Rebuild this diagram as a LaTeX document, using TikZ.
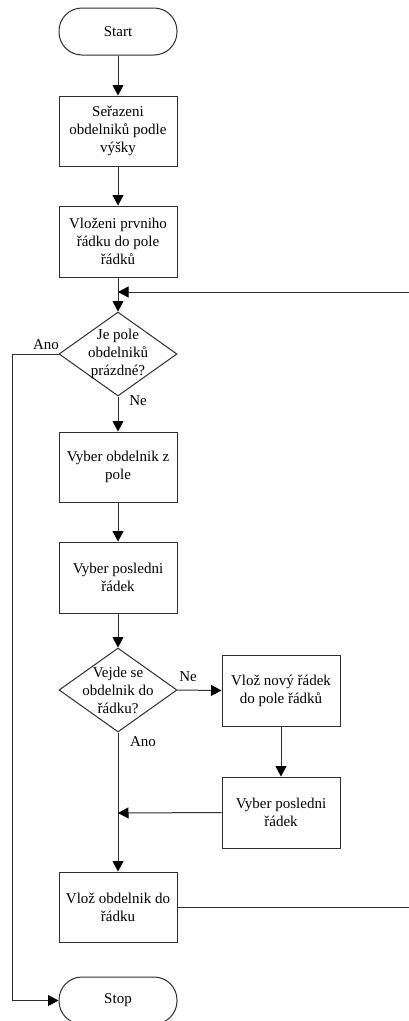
\documentclass[tikz,border=0pt]{standalone}
\usepackage{fontspec}
\setmainfont{Liberation Serif}
\usetikzlibrary{shapes.geometric,arrows.meta}
\begin{document}
\begin{tikzpicture}[x=1pt,y=-1pt,
  font=\fontsize{15}{18}\selectfont,
  ln/.style={draw=black!82,line width=1pt},
  arr/.style={ln,-{Triangle[width=11pt,length=10.5pt,fill=black,color=black]}},
  box/.style={ln,rectangle,minimum width=118pt,minimum height=70pt,inner sep=0pt,align=center,fill=white},
  term/.style={ln,rectangle,rounded corners=23pt,minimum width=118pt,minimum height=47pt,inner sep=0pt,align=center,fill=white},
  dia/.style={ln,diamond,minimum width=118pt,minimum height=84pt,inner sep=0pt,fill=white},
  txt/.style={align=center,inner sep=0pt},
  lbl/.style={inner sep=0pt}]
\useasboundingbox (0,0) rectangle (409,1021);
\node[term] (start) at (118,31.5) {Start};
\node[box] (b1) at (118,131) {Seřazeni\\obdelniků podle\\výšky};
\node[box,minimum height=71pt] (b2) at (118,241.5) {Vloženi prvniho\\řádku do pole\\řádků};
\node[dia] (d1) at (118,354) {};
\node[txt] at (118,354) {Je pole\\obdelniků\\prázdné?};
\node[box] (b3) at (118,467) {Vyber obdelnik z\\pole};
\node[box,minimum height=71pt] (b4) at (118,577.5) {Vyber posledni\\řádek};
\node[dia] (d2) at (118,690) {};
\node[txt] at (118,690) {Vejde se\\obdelnik do\\řádku?};
\node[box,minimum height=71pt] (r1) at (281,690.5) {Vlož nový řádek\\do pole řádků};
\node[box,minimum height=71pt] (r2) at (281,812.5) {Vyber posledni\\řádek};
\node[box] (b5) at (118,907) {Vlož obdelnik do\\řádku};
\node[term] (stop) at (118,1000.5) {Stop};
\coordinate (fbR) at (411,292);
\coordinate (fbM) at (118,292);
\coordinate (anoL) at (12,354);
\coordinate (m2) at (118,813);
% connectors
\draw[arr] (start) -- (b1);
\draw[arr] (b1) -- (b2);
\draw[arr] (b2) -- (d1);
\draw[arr] (b5.east) -- (b5.east -| fbR) -- (fbR) -- (fbM);
\draw[arr] (d1.west) -- (anoL) |- (stop.west);
\draw[arr] (d1) -- (b3);
\draw[arr] (b3) -- (b4);
\draw[arr] (b4) -- (d2);
\draw[arr] (d2.east) -- (r1.west);
\draw[arr] (d2) -- (b5);
\draw[arr] (r1) -- (r2);
\draw[arr] (r2.west) -- (m2);
% labels
\node[lbl] (l1) at (46,345) {Ano};
\node[lbl] (l2) at (138,401) {Ne};
\node[lbl] (l3) at (188,677) {Ne};
\node[lbl] (l4) at (143,742) {Ano};
\end{tikzpicture}
\end{document}
